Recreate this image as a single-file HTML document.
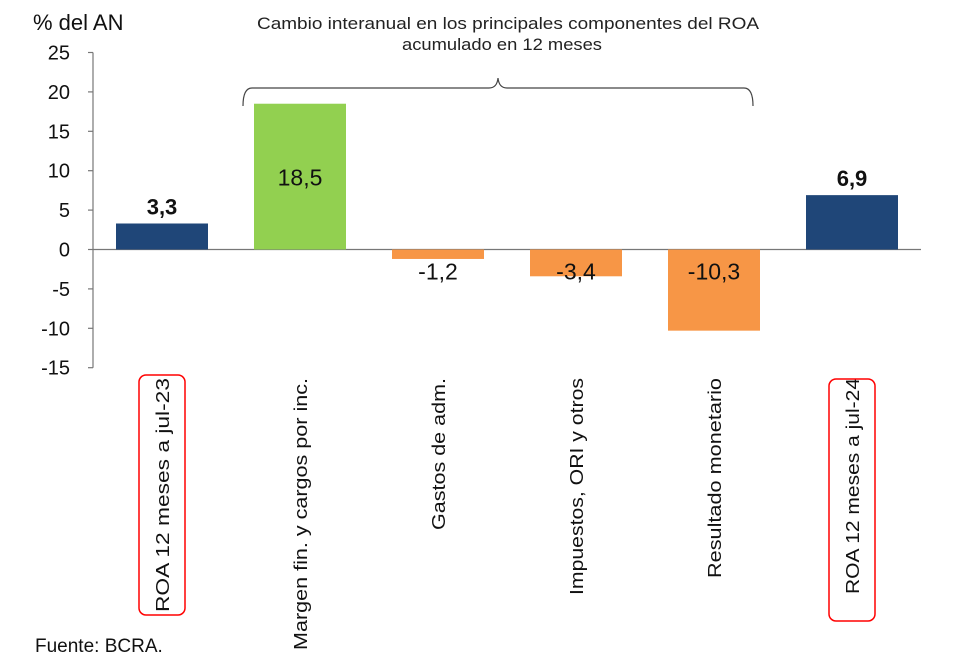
<!DOCTYPE html>
<html><head><meta charset="utf-8"><style>
html,body{margin:0;padding:0;background:#fff;}
svg{display:block;font-family:"Liberation Sans",Arial,sans-serif;}
</style></head><body>
<svg id="chart" width="959" height="664" viewBox="0 0 959 664">
<text x="33" y="30" font-size="22" fill="#111">% del AN</text>
<text x="508" y="29" font-size="17" text-anchor="middle" fill="#222" textLength="502" lengthAdjust="spacingAndGlyphs">Cambio interanual en los principales componentes del ROA</text>
<text x="502" y="50" font-size="17" text-anchor="middle" fill="#222" textLength="200" lengthAdjust="spacingAndGlyphs">acumulado en 12 meses</text>
<path d="M243,106 Q243,88 252,88 L489,88 Q497,88 498,78 Q499,88 507,88 L744,88 Q753,88 753,106" fill="none" stroke="#444" stroke-width="1.2"/>
<g id="axes"></g>
<g id="bars"></g>
<g id="labels"></g>
<text x="35" y="652" font-size="19" fill="#111">Fuente: BCRA.</text>
</svg>
<script>
const categories=["ROA 12 meses a jul-23","Margen fin. y cargos por inc.","Gastos de adm.","Impuestos, ORI y otros","Resultado monetario","ROA 12 meses a jul-24"];
const values=[3.3,18.5,-1.2,-3.4,-10.3,6.9];
const valueLabels=["3,3","18,5","-1,2","-3,4","-10,3","6,9"];
const colors=["#1f4678","#92d050","#f79646","#f79646","#f79646","#1f4678"];
const ticks=[25,20,15,10,5,0,-5,-10,-15];
const labelLens=[234,272,152,217,200,216];
const NS="http://www.w3.org/2000/svg";
const x0=93,x1=921,yTop=52.5,yZero=249.5;
const sc=(yZero-yTop)/25;
const y=v=>yZero-v*sc;
const bw=(x1-x0)/categories.length;
const xc=i=>x0+bw*(i+0.5);
function mk(t,a,p){const e=document.createElementNS(NS,t);for(const k in a)e.setAttribute(k,a[k]);p.appendChild(e);return e;}
const ax=document.getElementById('axes'),bg=document.getElementById('bars'),lg=document.getElementById('labels');
const yl=mk('line',{x1:x0,x2:x0,y1:y(25),y2:y(-15),stroke:'#777','stroke-width':1.2},ax);


ticks.forEach(t=>{
 const tl=mk('line',{x1:x0-5,x2:x0,y1:y(t),y2:y(t),stroke:'#777','stroke-width':1.2},ax);
 
 
 const tx=mk('text',{x:70,y:y(t)+7,'font-size':20,'text-anchor':'end',fill:'#111'},ax);
 tx.textContent=String(t);
 
 
});
const zl=mk('line',{x1:x0,x2:x1,y1:y(0),y2:y(0),stroke:'#777','stroke-width':1.2},ax);


values.forEach((v,i)=>{
 const cx=xc(i),w=92;
 const r=mk('rect',{x:cx-w/2,y:Math.min(y(v),y(0)),width:w,height:Math.abs(y(v)-y(0)),fill:colors[i]},bg);
 
 
 let ty,bold=(i===0||i===5);
 if(bold) ty=y(v)-9; else if(v>0) ty=(y(v)+y(0))/2+9; else ty=y(0)+30;
 const t=mk('text',{x:cx,y:ty,'font-size':bold?22:23,'font-weight':bold?'bold':'normal','text-anchor':'middle',fill:'#111'},lg);
 t.textContent=valueLabels[i];
 
 
 const c=mk('text',{transform:`translate(${cx+7},378) rotate(-90)`,'font-size':18.5,'text-anchor':'end',fill:'#111',textLength:labelLens[i],lengthAdjust:'spacingAndGlyphs'},lg);
 c.textContent=categories[i];
 
 
 if(bold){
  const top=i===0?375:379,bot=i===0?615:621;
  const b=mk('rect',{x:cx-23,y:top,width:46,height:bot-top,rx:7,fill:'none',stroke:'#f00','stroke-width':1.5},lg);
  
  
 }
});
</script>
</body></html>
